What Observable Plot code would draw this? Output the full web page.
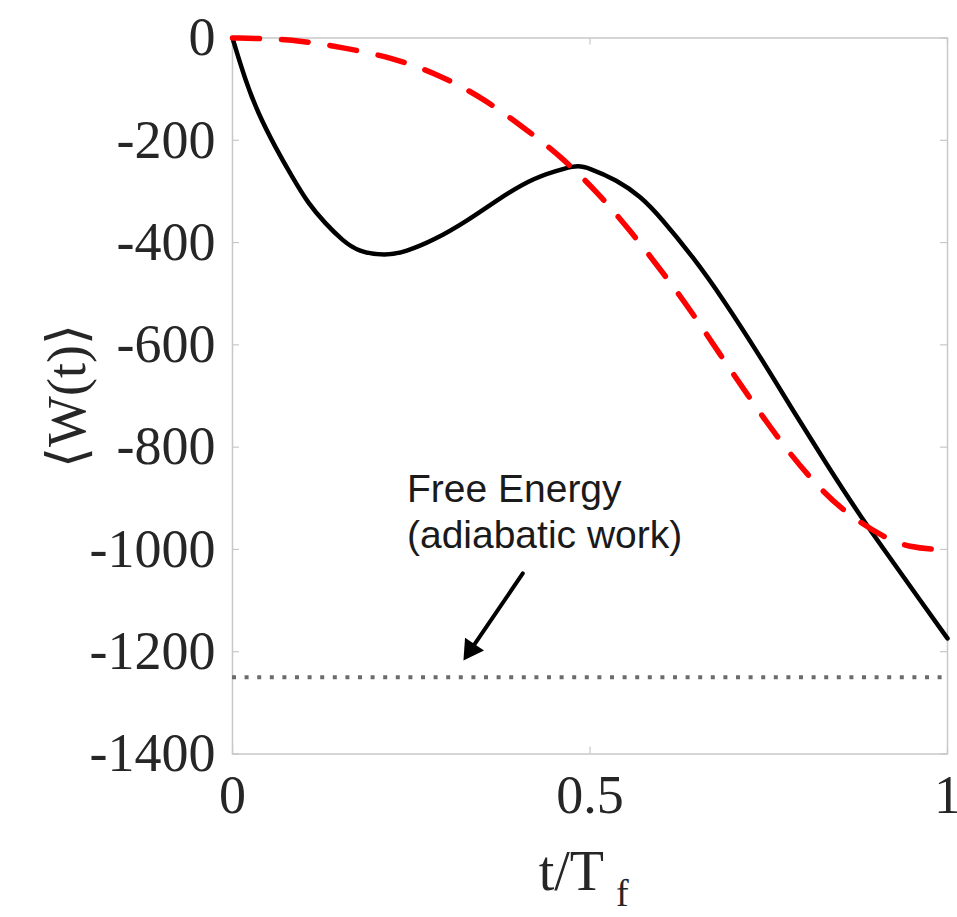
<!DOCTYPE html>
<html><head><meta charset="utf-8">
<script src="https://cdn.jsdelivr.net/npm/d3@7"></script>
<script src="https://cdn.jsdelivr.net/npm/@observablehq/plot@0.6"></script>
<style>body{margin:0;background:#fff}</style>
</head><body><div id="chart"></div>
<script>
// Black solid curve
const tOptimal = [0, 0.018, 0.036, 0.060, 0.084, 0.106, 0.130, 0.154, 0.176, 0.214, 0.242, 0.281, 0.329, 0.375, 0.421, 0.469, 0.483, 0.497, 0.538, 0.571, 0.599, 0.645, 0.683, 0.739, 0.785, 0.832, 0.878, 0.924, 0.962, 1.0];
const wOptimal = [0, -83, -148, -214, -273, -324, -363, -396, -418, -426, -418, -396, -357, -312, -273, -253, -250, -253, -278, -310, -351, -430, -504, -625, -731, -836, -935, -1025, -1100, -1174];
// Red dashed curve
const tDashed = [0, 0.046, 0.095, 0.155, 0.224, 0.291, 0.351, 0.407, 0.460, 0.512, 0.557, 0.600, 0.642, 0.681, 0.720, 0.761, 0.804, 0.852, 0.913, 0.948, 0.983, 1.0];
const wDashed = [0, -1, -5, -19, -38, -73, -118, -175, -232, -304, -378, -455, -535, -617, -697, -779, -855, -924, -979, -996, -1000, -1000];
// Free energy (adiabatic work) level
const freeEnergy = -1250;
const xTicks = [0, 0.5, 1];
const yTicks = [0, -200, -400, -600, -800, -1000, -1200, -1400];
const noteText = "Free Energy\n(adiabatic work)";
const notePos = [0.244, -998];
const arrowFrom = [0.406, -1047];
const arrowTo = [0.323, -1217];
const xLabelMain = "t/T";
const xLabelSub = "f";
const yLabel = "⟨W(t)⟩";

const optimal = tOptimal.map((t, i) => ({t, w: wOptimal[i]}));
const dashed = tDashed.map((t, i) => ({t, w: wDashed[i]}));
const arrowRow = [{x1: arrowFrom[0], y1: arrowFrom[1], x2: arrowTo[0], y2: arrowTo[1]}];

const serif = "'Liberation Serif', 'DejaVu Serif', serif";
const tickColor = "#c8c8c8";

const chart = Plot.plot({
  width: 957, height: 917,
  marginLeft: 232, marginTop: 37.5, marginRight: 10, marginBottom: 163.5,
  x: {domain: [0, 1], axis: null},
  y: {domain: [-1400, 0], axis: null},
  style: {background: "white", overflow: "visible"},
  marks: [
    Plot.frame({stroke: tickColor, strokeWidth: 1.5}),
    Plot.tickX(xTicks, {x: d => d, stroke: tickColor, strokeWidth: 1.2, insetTop: 709}),
    Plot.tickX(xTicks, {x: d => d, stroke: tickColor, strokeWidth: 1.2, insetBottom: 709}),
    Plot.tickY(yTicks, {y: d => d, stroke: tickColor, strokeWidth: 1.2, insetRight: 708}),
    Plot.tickY(yTicks, {y: d => d, stroke: tickColor, strokeWidth: 1.2, insetLeft: 708}),
    Plot.axisX(xTicks, {anchor: "bottom", tickSize: 0, tickPadding: 21, tickFormat: d => String(d), fontSize: 54, fontFamily: serif, fill: "#262626", label: null}),
    Plot.axisY(yTicks, {anchor: "left", tickSize: 0, tickPadding: 17, tickFormat: d => String(d), fontSize: 54, fontFamily: serif, fill: "#262626", label: null}),
    Plot.ruleY([freeEnergy], {stroke: "#6b6b6b", strokeWidth: 4, strokeDasharray: "4,8.6"}),
    Plot.line(optimal, {x: "t", y: "w", stroke: "black", strokeWidth: 4.5, curve: "basis"}),
    Plot.line(dashed, {x: "t", y: "w", stroke: "#ff0000", strokeWidth: 5.5, strokeDasharray: "27,22", curve: "basis"}),
    Plot.text([noteText], {x: notePos[0], y: notePos[1], text: d => d, textAnchor: "start", lineAnchor: "bottom", lineHeight: 1.2, fontSize: 39, fontFamily: "'Liberation Sans', Arial, sans-serif", fill: "#1a1a1a"}),
    Plot.arrow(arrowRow, {x1: "x1", y1: "y1", x2: "x2", y2: "y2", stroke: "black", strokeWidth: 4, headLength: 0, insetEnd: 15}),
    Plot.dot(arrowRow, {x: "x2", y: "y2", symbol: "triangle", r: 8.5, fill: "black", stroke: "none", rotate: 214, dx: 7.4, dy: -10.9}),
    Plot.text([xLabelMain], {frameAnchor: "bottom", text: d => d, textAnchor: "end", lineAnchor: "bottom", dx: 14, dy: 136, fontSize: 56, fontFamily: serif, fill: "#262626"}),
    Plot.text([xLabelSub], {frameAnchor: "bottom", text: d => d, textAnchor: "start", lineAnchor: "bottom", dx: 26, dy: 152, fontSize: 38, fontFamily: serif, fill: "#262626"}),
    Plot.text([yLabel], {frameAnchor: "left", text: d => d, rotate: -90, dx: -165, textAnchor: "middle", lineAnchor: "middle", fontSize: 54, fontFamily: serif, fill: "#262626"})
  ]
});
document.getElementById("chart").append(chart);
</script>
</body></html>
